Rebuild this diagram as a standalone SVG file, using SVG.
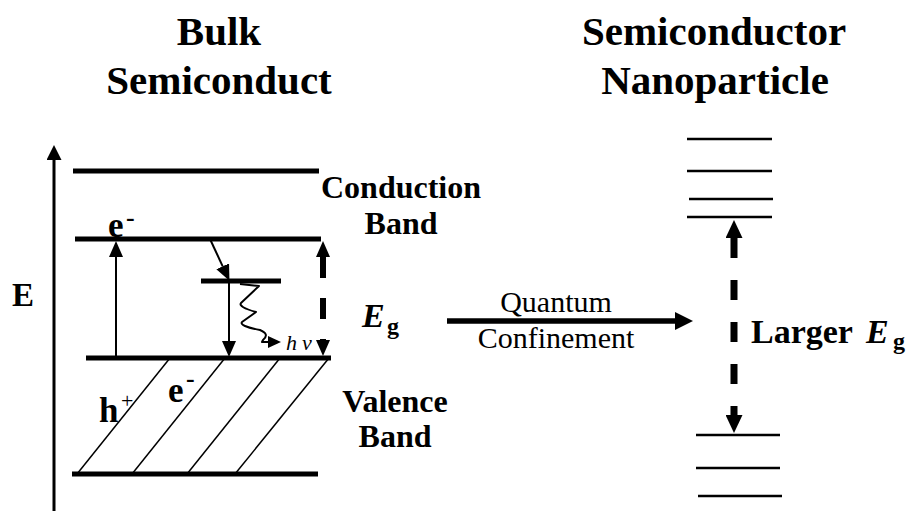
<svg xmlns="http://www.w3.org/2000/svg" width="911" height="511" viewBox="0 0 911 511">
<defs>
<marker id="hThin" viewBox="0 0 10 10" refX="0" refY="5" markerUnits="userSpaceOnUse" markerWidth="16" markerHeight="14" orient="auto" preserveAspectRatio="none"><path d="M0,0 L10,5 L0,10 z"/></marker>
<marker id="hSmall" viewBox="0 0 10 10" refX="0" refY="5" markerUnits="userSpaceOnUse" markerWidth="13" markerHeight="12" orient="auto" preserveAspectRatio="none"><path d="M0,0 L10,5 L0,10 z"/></marker>
<marker id="hDash" viewBox="0 0 10 10" refX="0" refY="5" markerUnits="userSpaceOnUse" markerWidth="16" markerHeight="14" orient="auto-start-reverse" preserveAspectRatio="none"><path d="M0,0 L10,5 L0,10 z"/></marker>
<marker id="hDashR" viewBox="0 0 10 10" refX="0" refY="5" markerUnits="userSpaceOnUse" markerWidth="18" markerHeight="17" orient="auto-start-reverse" preserveAspectRatio="none"><path d="M0,0 L10,5 L0,10 z"/></marker>
<marker id="hBig" viewBox="0 0 10 10" refX="0" refY="5" markerUnits="userSpaceOnUse" markerWidth="18" markerHeight="18" orient="auto" preserveAspectRatio="none"><path d="M0,0 L10,5 L0,10 z"/></marker>
<marker id="hAxis" viewBox="0 0 10 10" refX="0" refY="5" markerUnits="userSpaceOnUse" markerWidth="15" markerHeight="15" orient="auto" preserveAspectRatio="none"><path d="M0,0 L10,5 L0,10 z"/></marker>
</defs>

<g id="titles" font-family="Liberation Serif" font-size="41" font-weight="bold" text-anchor="middle">
<text font-family="Liberation Serif" x="219" y="45">Bulk</text>
<text font-family="Liberation Serif" x="219" y="94">Semiconduct</text>
<text font-family="Liberation Serif" x="714" y="45">Semiconductor</text>
<text font-family="Liberation Serif" x="715" y="94">Nanoparticle</text>
</g>

<g id="energy-axis">
<line x1="54" y1="511" x2="54" y2="160" stroke="#000" stroke-width="3" marker-end="url(#hAxis)"/>
<text font-family="Liberation Serif" x="12" y="306" font-size="33" font-weight="bold">E</text>
</g>

<g id="bulk-bands" stroke="#000">
<g stroke-width="5">
<line x1="73" y1="171" x2="319" y2="171"/>
<line x1="75" y1="239" x2="321" y2="239"/>
<line x1="201" y1="281" x2="281" y2="281"/>
<line x1="86" y1="358" x2="331" y2="358"/>
<line x1="72" y1="474" x2="318" y2="474"/>
</g>
<g stroke-width="1.5">
<line x1="77" y1="474" x2="170" y2="358"/>
<line x1="132" y1="474" x2="225" y2="358"/>
<line x1="187" y1="474" x2="280" y2="358"/>
<line x1="235" y1="474" x2="329" y2="358"/>
</g>
</g>

<g id="bulk-labels" font-family="Liberation Serif" font-weight="bold">
<g font-size="32" text-anchor="middle">
<text font-family="Liberation Serif" x="401" y="198">Conduction</text>
<text font-family="Liberation Serif" x="401" y="234">Band</text>
<text font-family="Liberation Serif" x="395" y="412">Valence</text>
<text font-family="Liberation Serif" x="395" y="447">Band</text>
</g>
<text font-family="Liberation Serif" x="108" y="237" font-size="35">e</text>
<text font-family="Liberation Serif" x="126" y="226" font-size="26">-</text>
<text font-family="Liberation Serif" x="99" y="422" font-size="35">h</text>
<text font-family="Liberation Serif" x="121" y="408" font-size="22" font-weight="normal">+</text>
<text font-family="Liberation Serif" x="168" y="402" font-size="35">e</text>
<text font-family="Liberation Serif" x="186" y="387" font-size="26">-</text>
<text font-family="Liberation Serif" x="286" y="350" font-size="22" font-weight="normal" font-style="italic">h<tspan x="302">v</tspan></text>
<text font-family="Liberation Serif" x="362" y="327" font-size="34" font-style="italic">E</text>
<text font-family="Liberation Serif" x="387" y="334" font-size="24">g</text>
</g>

<g id="nano-levels" stroke="#000" stroke-width="2.5">
<line x1="687" y1="139" x2="772" y2="139"/>
<line x1="687" y1="171" x2="772" y2="171"/>
<line x1="689" y1="199" x2="773" y2="199"/>
<line x1="687" y1="217" x2="772" y2="217"/>
<line x1="696" y1="435" x2="780" y2="435"/>
<line x1="696" y1="468" x2="780" y2="468"/>
<line x1="698" y1="496" x2="782" y2="496"/>
</g>

<g id="nano-labels" font-family="Liberation Serif">
<text font-family="Liberation Serif" x="556" y="312" font-size="30" text-anchor="middle">Quantum</text>
<text font-family="Liberation Serif" x="556" y="348" font-size="30" text-anchor="middle">Confinement</text>
<text font-family="Liberation Serif" x="751" y="343" font-size="34" font-weight="bold">Larger</text>
<text font-family="Liberation Serif" x="866" y="343" font-size="34" font-weight="bold" font-style="italic">E</text>
<text font-family="Liberation Serif" x="893" y="349" font-size="24" font-weight="bold">g</text>
</g>

<g id="connectors" stroke="#000" fill="none">
<line x1="116" y1="357" x2="116" y2="257" stroke-width="2" marker-end="url(#hThin)"/>
<line x1="210" y1="239" x2="222.7" y2="266.3" stroke-width="2" marker-end="url(#hThin)"/>
<line x1="229" y1="283" x2="229" y2="341" stroke-width="2" marker-end="url(#hThin)"/>
<path d="M240 284 L259 286 L241 303 Q238 307 256 312 L242 322 Q239 326 260 330 Q270 334 263 340 L262 342 L268 342" stroke-width="2" stroke-linejoin="round" marker-end="url(#hSmall)"/>
<line x1="323" y1="257" x2="323" y2="340" stroke-width="6" stroke-dasharray="21 20" marker-start="url(#hDash)" marker-end="url(#hDash)"/>
<line x1="447" y1="321" x2="675" y2="321" stroke-width="5.5" marker-end="url(#hBig)"/>
<line x1="734" y1="238" x2="734" y2="415" stroke-width="7" stroke-dasharray="20 22" marker-start="url(#hDashR)" marker-end="url(#hDashR)"/>
</g>
</svg>
